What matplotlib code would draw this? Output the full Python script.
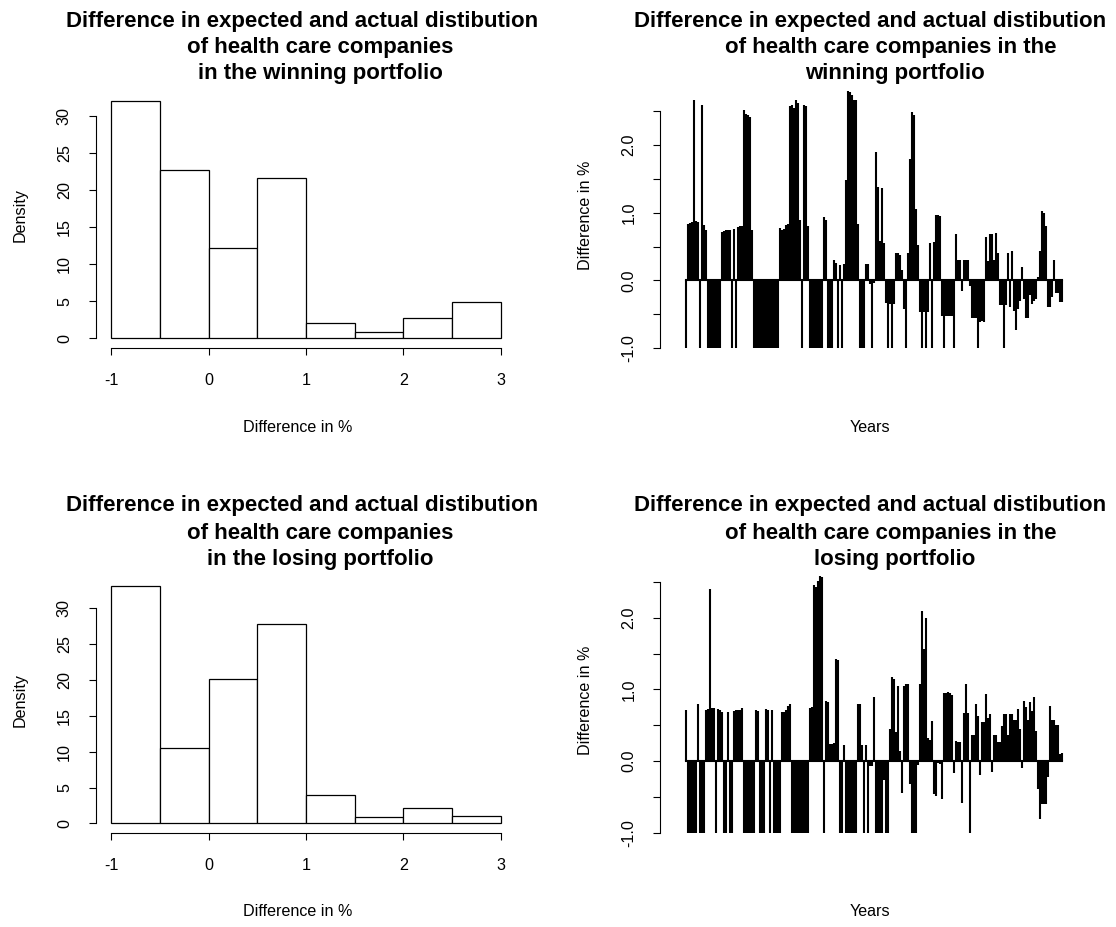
import numpy as np
import matplotlib
matplotlib.use("Agg")
import matplotlib.pyplot as plt

plt.rcParams['font.family'] = ['Liberation Sans', 'DejaVu Sans']
plt.rcParams['axes.unicode_minus'] = False

# histogram densities (bins of width 0.5 from -1 to 3)
bin_edges = [-1, -0.5, 0, 0.5, 1, 1.5, 2, 2.5, 3]
win_density = [32.1, 22.7, 12.2, 21.7, 2.15, 0.9, 2.8, 4.95]
lose_density = [33.2, 10.5, 20.2, 27.9, 4.0, 0.95, 2.2, 1.0]

# difference series over time
win_diff = [
    -1, 0.84, 0.85, 0.86, 2.67, 0.88, 0.87, -1, 2.6, 0.82,
    0.74, -1, -1, -1, -1, -1, -1, -1, 0.72, 0.73,
    0.74, 0.74, 0.75, -1, 0.76, -1, 0.79, 0.8, 0.8, 2.52,
    2.46, 2.44, 2.42, 0.75, -1, -1, -1, -1, -1, -1,
    -1, -1, -1, -1, -1, -1, -1, 0.78, 0.75, 0.76,
    0.82, 0.84, 2.58, 2.6, 2.55, 2.66, 2.62, 0.9, -1, 2.6,
    2.58, 0.8, -1, -1, -1, -1, -1, -1, -1, 0.93,
    0.9, -1, -1, -1, 0.3, 0.26, -1, 0.22, -1, 0.24,
    1.48, 2.8, 2.78, 2.74, 2.67, 2.66, 0.83, -1, -1, -1,
    0.24, 0.24, -0.06, -1, -0.04, 1.9, 1.38, 0.58, 1.36, 0.55,
    -0.33, -1, -0.35, -1, -0.35, 0.4, 0.4, 0.38, 0.16, -0.43,
    -1, 0.4, 1.8, 2.49, 2.45, 1.05, 0.53, -0.47, -1, -0.47,
    -1, -0.47, 0.55, -1, 0.56, 0.96, 0.96, 0.95, -0.52, -1,
    -0.52, -0.52, -0.52, -0.52, -1, 0.68, 0.3, 0.3, -0.15, 0.3,
    0.3, 0.3, -0.08, -0.55, -0.55, -0.55, -1, -0.62, -0.6, -0.62,
    0.64, 0.28, 0.69, 0.68, 0.3, 0.7, 0.4, -0.37, -0.37, -1,
    -0.37, 0.4, -0.4, 0.44, -0.45, -0.74, -0.43, -0.3, 0.2, -0.27,
    -0.55, -0.55, -0.22, -0.35, -0.3, -0.28, 0.05, 0.44, 1.02, 1.0,
    0.8, -0.4, -0.4, -0.25, 0.3, -0.19, -0.19, -0.32, -0.32,
]
lose_diff = [
    0.71, -1, -1, -1, -1, -1, 0.8, -1, -1, -1,
    0.72, 0.73, 2.4, 0.74, 0.74, -1, 0.73, 0.72, 0.68, -1,
    -1, 0.69, -1, -1, 0.7, 0.71, 0.71, 0.72, 0.74, -1,
    -1, -1, -1, -1, -1, 0.71, 0.7, -1, -1, -1,
    0.73, 0.71, -1, 0.72, -1, -1, -1, -1, 0.69, 0.69,
    0.71, 0.77, 0.79, -1, -1, -1, -1, -1, -1, -1,
    -1, -1, 0.74, 0.75, 2.45, 2.42, 2.51, 2.58, 2.57, -1,
    0.84, 0.82, 0.24, 0.24, 0.26, 1.42, 1.41, -1, -1, 0.23,
    -1, -1, -1, -1, -1, -1, 0.8, 0.8, 0.23, -1,
    0.22, -1, -0.07, -0.07, 0.9, -1, -1, -1, -1, -0.26,
    -1, -1, 0.45, 1.17, 1.15, 0.4, 1.05, 0.14, -0.44, 1.05,
    1.07, 1.07, -0.32, -1, -1, -1, -0.05, 1.07, 2.09, 1.56,
    2.0, 0.33, 0.3, 0.56, -0.46, -0.49, -0.03, -0.04, -0.53, 0.95,
    0.95, 0.96, 0.95, 0.92, -0.16, 0.28, 0.27, 0.27, -0.58, 0.67,
    1.07, 0.67, -1, 0.36, 0.36, 0.8, 0.63, -0.19, 0.55, 0.55,
    0.93, 0.6, 0.66, -0.15, 0.36, 0.36, 0.27, 0.27, 0.49, 0.66,
    0.66, 0.36, 0.66, 0.66, 0.58, 0.58, 0.73, 0.45, -0.1, 0.84,
    0.75, 0.58, 0.82, 0.7, 0.9, 0.42, -0.39, -0.81, -0.6, -0.6,
    -0.6, -0.22, 0.77, 0.58, 0.58, 0.5, 0.5, 0.1, 0.12,
]

title_top = "Difference in expected and actual distibution"
hist_titles = [["of health care companies", "in the winning portfolio"],
               ["of health care companies", "in the losing portfolio"]]
series_titles = [["of health care companies in the", "winning portfolio"],
                 ["of health care companies in the", "losing portfolio"]]

W, H = 1116, 927
fig = plt.figure(figsize=(W / 100, H / 100), dpi=100)


def axes_px(left, top, w, h):
    return fig.add_axes([left / W, 1 - (top + h) / H, w / W, h / H])


def ftext(x, y, s, **kw):
    fig.text(x / W, 1 - y / H, s, ha="center", va="center", **kw)


TICK_FS = 11.6
LAB_FS = 11.6
TITLE_FS = 16


def base_style(ax):
    for s in ["top", "right"]:
        ax.spines[s].set_visible(False)
    ax.tick_params(direction="out", length=5, width=0.8, labelsize=TICK_FS)
    ax.tick_params(axis="y", labelrotation=90, pad=12)
    ax.tick_params(axis="x", pad=13)
    for lab in ax.get_yticklabels():
        lab.set_va("center")


rows_top = [91, 576]
for r, top in enumerate(rows_top):
    # ---- histogram (left)
    dens = [win_density, lose_density][r]
    ax = axes_px(95.5, top, 421, 257)
    ax.bar(bin_edges[:-1], dens, width=0.5, align="edge",
           facecolor="white", edgecolor="black", linewidth=0.9)
    ax.set_xlim(-1.16, 3.16)
    ax.set_ylim(-0.04 * max(dens), 1.04 * max(dens))
    ax.set_xticks([-1, 0, 1, 2, 3])
    ax.set_yticks([0, 5, 10, 15, 20, 25, 30])
    ax.spines["bottom"].set_bounds(-1, 3)
    ax.spines["left"].set_bounds(0, 30)
    base_style(ax)
    ftext(302, top - 70, title_top, fontsize=TITLE_FS, fontweight="bold")
    ftext(320, top - 43, hist_titles[r][0], fontsize=TITLE_FS, fontweight="bold")
    ftext(320, top - 17, hist_titles[r][1], fontsize=TITLE_FS, fontweight="bold")
    ftext(298, top + 336, "Difference in %", fontsize=LAB_FS)
    ftext(20, top + 124, "Density", fontsize=LAB_FS, rotation=90)

    # ---- time series (right)
    vals = [win_diff, lose_diff][r]
    x = np.arange(len(vals))
    ax2 = axes_px(660, top, 422, 257)
    ax2.vlines(x, 0, vals, color="black", linewidth=1.5)
    ax2.plot(x, np.zeros(len(vals)), color="black", linewidth=1.5)
    ax2.set_xlim(-13, 198)
    ax2.set_ylim(min(vals), max(vals))
    ax2.set_xticks([])
    ax2.spines["bottom"].set_visible(False)
    ax2.set_yticks([-1, -0.5, 0, 0.5, 1, 1.5, 2, 2.5])
    ax2.set_yticklabels(["-1.0", "", "0.0", "", "1.0", "", "2.0", ""])
    ax2.spines["left"].set_bounds(-1, 2.5)
    base_style(ax2)
    ftext(870, top - 70, title_top, fontsize=TITLE_FS, fontweight="bold")
    ftext(891, top - 43, series_titles[r][0], fontsize=TITLE_FS, fontweight="bold")
    ftext(895, top - 17, series_titles[r][1], fontsize=TITLE_FS, fontweight="bold")
    ftext(870, top + 336, "Years", fontsize=LAB_FS)
    ftext(585, top + 124, "Difference in %", fontsize=LAB_FS, rotation=90)

fig.savefig("out.png", dpi=100)
